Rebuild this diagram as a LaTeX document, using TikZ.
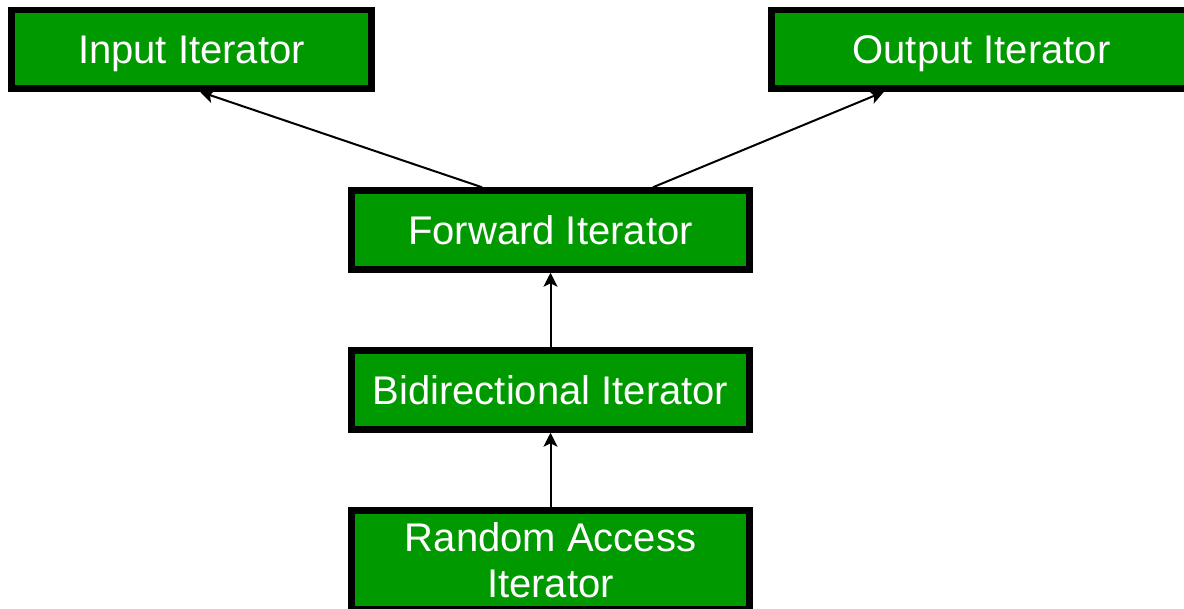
\documentclass[tikz,border=0pt]{standalone}
\usepackage{fontspec}
\setmainfont{Liberation Sans}
\usetikzlibrary{arrows.meta}
\definecolor{boxgreen}{RGB}{0,153,0}
\tikzset{
  itbox/.style={draw=black, line width=6.5pt, fill=boxgreen, text=white,
    inner sep=0pt, font=\fontsize{40}{46}\selectfont,
    text height=28.6pt, text depth=0pt},
  arr/.style={line width=2pt, draw=black,
    -{Stealth[length=14pt, width=14pt, inset=3.5pt]}}
}
\begin{document}
\begin{tikzpicture}[x=1pt, y=-1pt]
\useasboundingbox (0,0) rectangle (1184,609);
\clip (0,0) rectangle (1184,609);
\node[itbox, minimum width=360pt, minimum height=78.5pt] (in) at (191.5,49.25) {Input Iterator};
\node[itbox, minimum width=420pt, minimum height=78.5pt] (out) at (981.5,49.25) {Output Iterator};
\node[itbox, minimum width=398pt, minimum height=79pt] (fwd) at (550.5,230) {Forward Iterator};
\node[itbox, minimum width=398pt, minimum height=79pt] (bid) at (550.5,390) {Bidirectional Iterator};
\node[itbox, minimum width=398pt, minimum height=99pt, align=center, text height=74.6pt, text depth=0pt] (rnd) at (550.5,560) {Random Access\\Iterator};
\draw[arr] ([xshift=-68.5pt]fwd.north) -- ([xshift=8.5pt]in.south);
\draw[arr] ([xshift=102.5pt]fwd.north) -- ([xshift=-97.5pt]out.south);
\draw[arr] (bid.north) -- (fwd.south);
\draw[arr] (rnd.north) -- (bid.south);
\end{tikzpicture}
\end{document}
